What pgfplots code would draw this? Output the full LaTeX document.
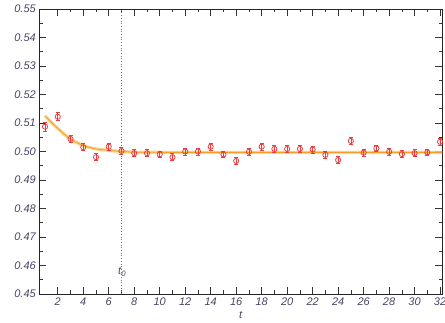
\documentclass[border=0pt]{standalone}
\usepackage{fontspec}
\setmainfont{Liberation Sans}
\usepackage{pgfplots}
\pgfplotsset{compat=1.18}
\definecolor{ptred}{RGB}{232,62,62}
\definecolor{fitband}{RGB}{252,206,125}
\definecolor{fitline}{RGB}{242,160,40}
\definecolor{ticklab}{RGB}{70,70,100}
\begin{document}
\begin{tikzpicture}
\begin{axis}[
  name=ax,
  scale only axis, width=402.7pt, height=285pt,
  xmin=0.55, xmax=32.15, ymin=0.45, ymax=0.55,
  xtick={2,4,...,32}, minor x tick num=1,
  ytick={0.45,0.46,0.47,0.48,0.49,0.50,0.51,0.52,0.53,0.54,0.55}, minor y tick num=1,
  tick align=inside,
  major tick length=7pt, minor tick length=3.5pt,
  tick style={color=black!80, line width=0.6pt},
  axis line style={black!85, line width=0.8pt},
  /pgf/number format/assume math mode=true,
  ticklabel style={font=\fontsize{11}{12}\selectfont\itshape, text=ticklab},
  yticklabel style={/pgf/number format/.cd, fixed, fixed zerofill, precision=2},
  xlabel={\itshape t},
  xlabel style={font=\fontsize{11}{12}\selectfont, text=ticklab, yshift=1pt},
  clip=true,
]
% vertical dotted line at t0
\addplot[black!55, dotted, line width=0.7pt] coordinates {(7,0.45) (7,0.55)};
% fit band
\addplot[fitband, line width=3.2pt, smooth, opacity=0.9] coordinates {
(1,0.5125) (1.5,0.5102) (2,0.5081) (2.5,0.5061) (3,0.5044) (3.5,0.5031) (4,0.5021) (4.5,0.5014) (5,0.5009) (5.5,0.5006) (6,0.5004) (7,0.5000) (8,0.4998) (10,0.4997) (32.5,0.4997)};
\addplot[fitline, line width=0.8pt, smooth] coordinates {
(1,0.5125) (1.5,0.5102) (2,0.5081) (2.5,0.5061) (3,0.5044) (3.5,0.5031) (4,0.5021) (4.5,0.5014) (5,0.5009) (5.5,0.5006) (6,0.5004) (7,0.5000) (8,0.4998) (10,0.4997) (32.5,0.4997)};
% data
\addplot[ptred, only marks, mark=o, mark size=2.6pt, mark options={line width=0.8pt},
  error bars/.cd, y dir=both, y explicit,
  error bar style={line width=0.7pt}, error mark options={rotate=90, mark size=2pt, line width=0.7pt}]
 table[x=t, y=v, y error=e] {
t v e
1 0.5087 0.0016
2 0.5122 0.0014
3 0.5044 0.0013
4 0.5015 0.0012
5 0.4980 0.0012
6 0.5017 0.0012
7 0.5002 0.0012
8 0.4994 0.0012
9 0.4994 0.0012
10 0.4990 0.0012
11 0.4980 0.0012
12 0.5000 0.0012
13 0.5000 0.0012
14 0.5017 0.0012
15 0.4990 0.0012
16 0.4967 0.0012
17 0.4999 0.0012
18 0.5017 0.0012
19 0.5009 0.0012
20 0.5009 0.0012
21 0.5009 0.0012
22 0.5007 0.0012
23 0.4988 0.0012
24 0.4970 0.0012
25 0.5037 0.0012
26 0.4996 0.0012
27 0.5011 0.0012
28 0.4999 0.0012
29 0.4991 0.0012
30 0.4994 0.0012
31 0.4997 0.0012
32 0.5034 0.0012
};
\node[text=ticklab, font=\fontsize{11}{12}\selectfont\itshape] at (axis cs:7.05,0.4577) {t\textsubscript{0}};
\end{axis}
\pgfresetboundingbox
\path[use as bounding box] ([shift={(-39.3pt,-29pt)}]ax.south west) rectangle ([shift={(3pt,9pt)}]ax.north east);
\end{tikzpicture}
\end{document}
